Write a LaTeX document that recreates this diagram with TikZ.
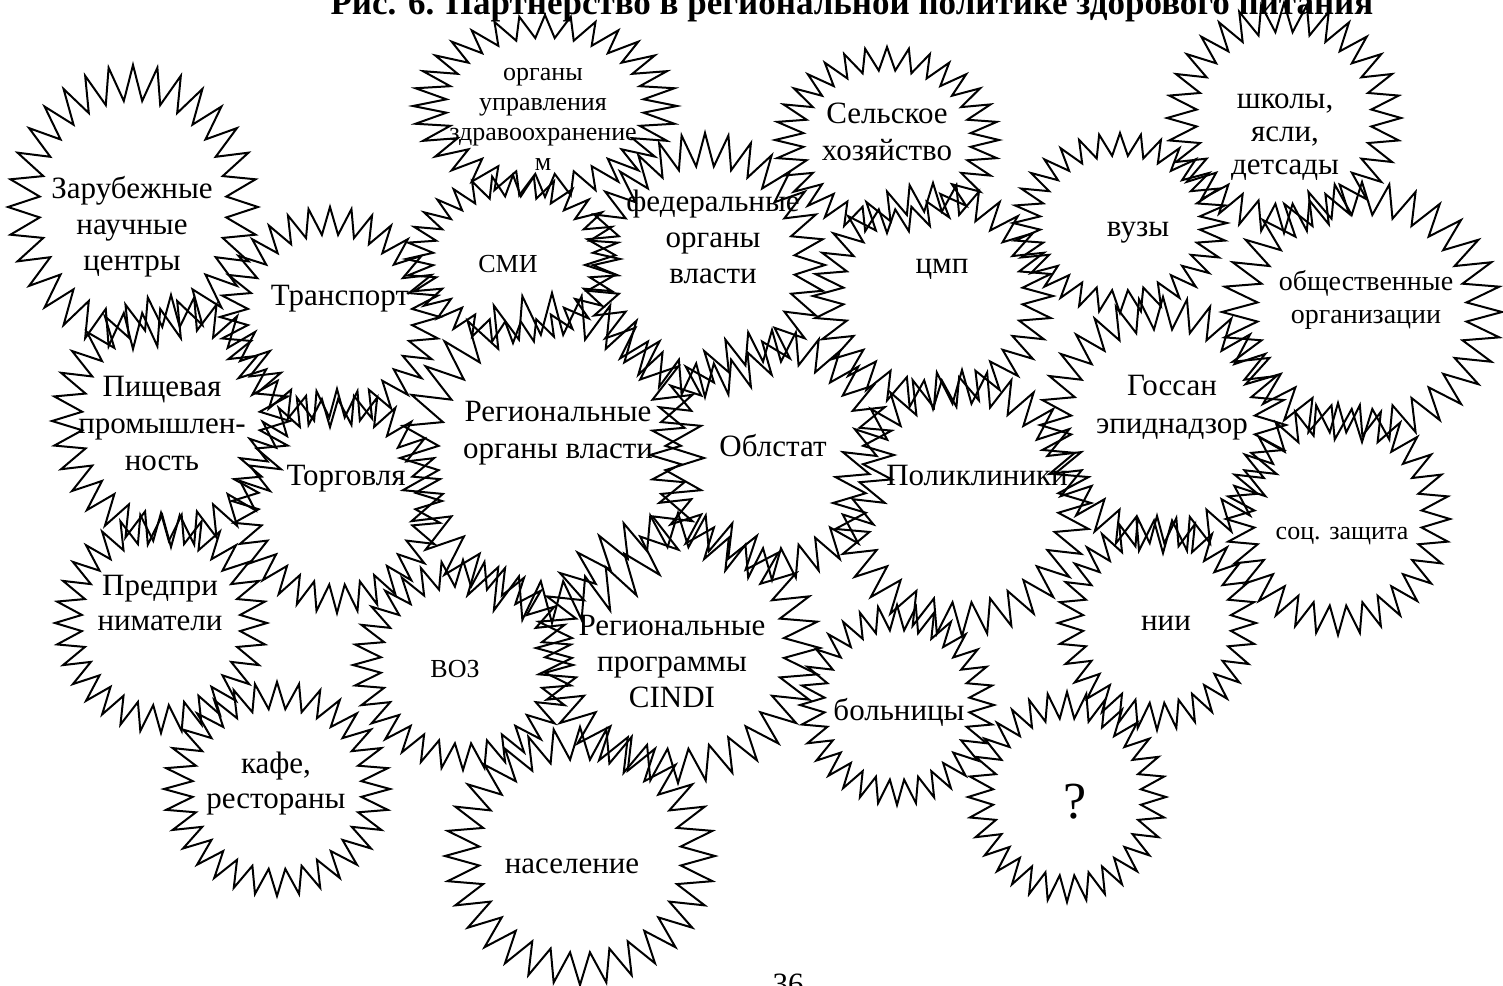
\documentclass[tikz,border=0pt]{standalone}
\usepackage{fontspec}
\setmainfont{Liberation Serif}
\newcommand\burst[4]{%
  \draw[burstline,shift={(#1,#2)}] (90:#3 and #4)
    \foreach \k in {1,...,63}{ -- ({90+5.625*\k}:{#3*(0.875+0.125*cos(180*\k))} and {#4*(0.875+0.125*cos(180*\k))}) } -- cycle;}
\newcommand\ml[1]{\begin{tabular}[t]{@{}c@{}}#1\end{tabular}}
\tikzset{
  burstline/.style={line width=1pt, line join=miter, miter limit=20},
  lbl/.style={inner sep=0pt, anchor=base},
  big/.style={font=\fontsize{15.5}{18}\selectfont},
  small/.style={font=\fontsize{13}{15}\selectfont},
}
\begin{document}
\begin{tikzpicture}[x=0.5pt,y=-0.5pt]
\useasboundingbox (0,0) rectangle (1503,985);
\clip (0,0) rectangle (1503,985);
% title and page number
\node[lbl,font=\bfseries\fontsize{17.5}{20}\selectfont] (title) at (852,14) {Рис. 6. Партнерство в региональной политике здорового питания};
\node[lbl,big] (page) at (788,994) {36};
% starbursts
\burst{133}{207}{125}{142}   % A
\burst{545}{106}{132}{91}    % B
\burst{887}{140}{112}{93}    % C
\burst{1284}{118}{117}{115}  % D
\burst{513}{259}{107}{84}    % E
\burst{705}{265}{120}{132}   % F
\burst{933}{296}{120}{113}   % G
\burst{1120}{223}{107}{90}   % H
\burst{1362}{312}{140}{130}  % I
\burst{330}{317}{110}{110}   % J
\burst{171}{421}{119}{126}   % K
\burst{337}{501}{105}{112}   % L
\burst{552}{458}{152}{165}   % M
\burst{772}{455}{122}{125}   % N
\burst{962}{503}{129}{133}   % O
\burst{1163}{425}{123}{128}  % P
\burst{1338}{519}{112}{116}  % Q
\burst{1157}{623}{99}{107}   % R
\burst{897}{705}{97}{100}    % S
\burst{1067}{797}{99}{105}   % T
\burst{161}{623}{106}{110}   % U
\burst{277}{789}{113}{107}   % V
\burst{463}{665}{110}{105}   % W
\burst{678}{648}{142}{135}   % X
\burst{580}{856}{135}{129}   % Y
% labels
\node[lbl,big] (a) at (132,198) {\ml{Зарубежные\\научные\\центры}};
\node[lbl,small] (b) at (543,80) {\ml{органы\\управления\\здравоохранение\\м}};
\node[lbl,font=\fontsize{15.5}{18.5}\selectfont] (c) at (887,123) {\ml{Сельское\\хозяйство}};
\node[lbl,font=\fontsize{15.5}{16.5}\selectfont] (d) at (1285,108) {\ml{школы,\\ясли,\\детсады}};
\node[lbl,small] (e) at (508,272) {СМИ};
\node[lbl,big] (f) at (713,211) {\ml{федеральные\\органы\\власти}};
\node[lbl,big] (g) at (942,273) {цмп};
\node[lbl,big] (h) at (1138,236) {вузы};
\node[lbl,font=\fontsize{14}{16.5}\selectfont] (i) at (1366,290) {\ml{общественные\\организации}};
\node[lbl,big] (j) at (340,305) {Транспорт};
\node[lbl,font=\fontsize{15.5}{18.5}\selectfont] (k) at (162,396) {\ml{Пищевая\\промышлен-\\ность}};
\node[lbl,big] (l) at (346,485) {Торговля};
\node[lbl,font=\fontsize{15.5}{18.5}\selectfont] (m) at (558,421) {\ml{Региональные\\органы власти}};
\node[lbl,big] (n) at (773,456) {Облстат};
\node[lbl,big] (o) at (977,485) {Поликлиники};
\node[lbl,font=\fontsize{15.5}{19}\selectfont] (p) at (1172,395) {\ml{Госсан\\эпиднадзор}};
\node[lbl,small] (q) at (1342,539) {соц. защита};
\node[lbl,big] (r) at (1166,630) {нии};
\node[lbl,big] (s) at (899,720) {больницы};
\node[lbl,font=\fontsize{26}{30}\selectfont] (t) at (1075,818) {?};
\node[lbl,font=\fontsize{15.5}{17.5}\selectfont] (u) at (160,595) {\ml{Предпри\\ниматели}};
\node[lbl,font=\fontsize{15.5}{17.5}\selectfont] (v) at (276,773) {\ml{кафе,\\рестораны}};
\node[lbl,small] (w) at (455,677) {ВОЗ};
\node[lbl,big] (x) at (672,635) {\ml{Региональные\\программы\\CINDI}};
\node[lbl,big] (y) at (572,873) {население};
\end{tikzpicture}
\end{document}
